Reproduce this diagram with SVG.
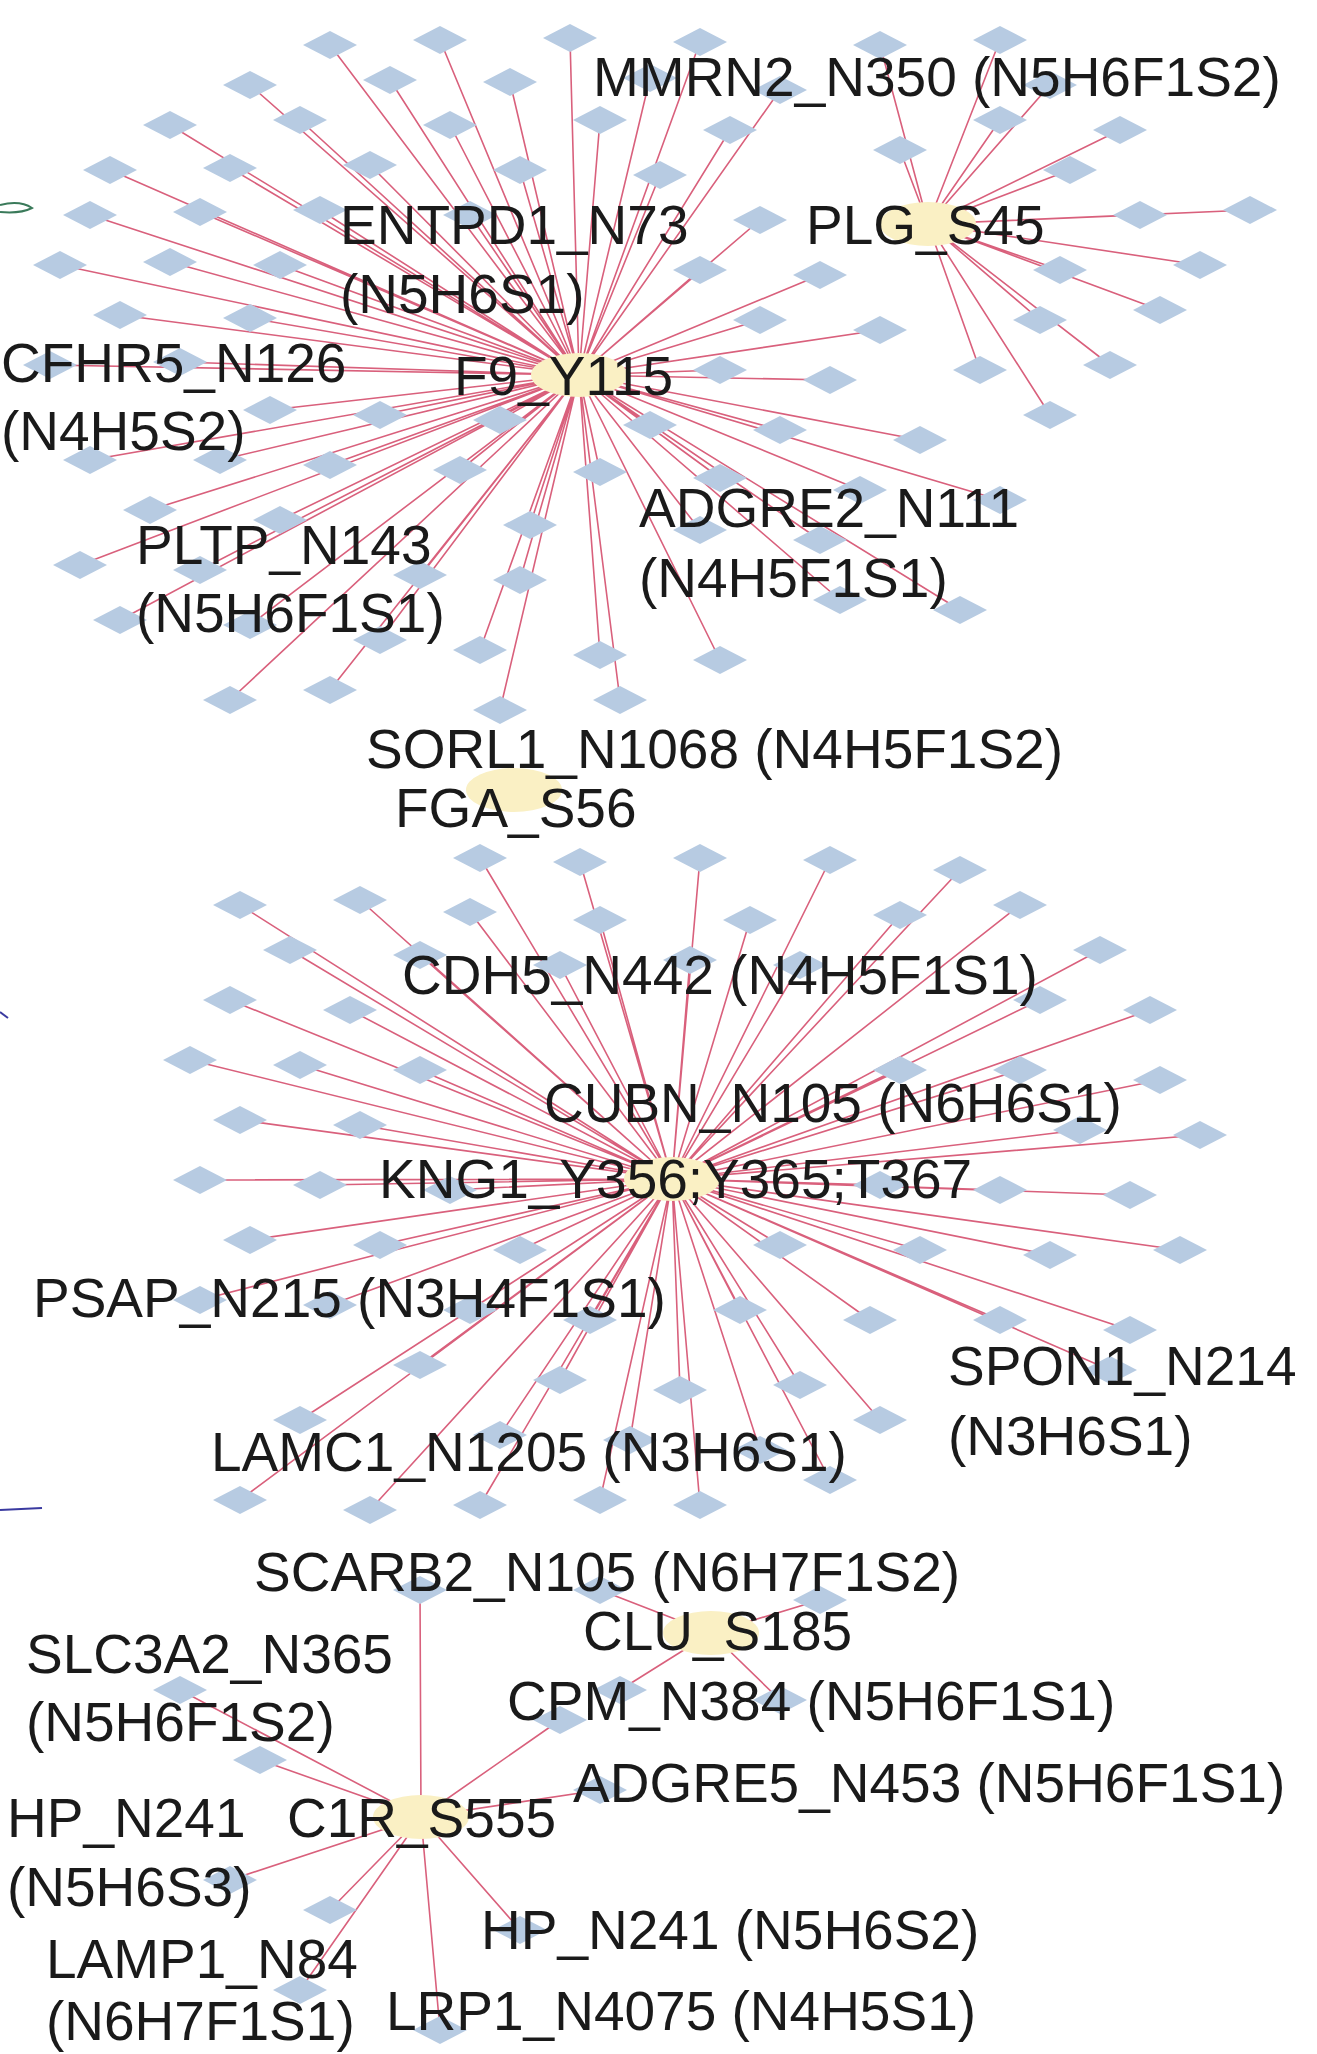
<svg xmlns="http://www.w3.org/2000/svg" xmlns:xlink="http://www.w3.org/1999/xlink" width="1317" height="2054" viewBox="0 0 1317 2054">
<style>
.e{stroke:#d9607c;stroke-width:1.6;fill:none}
.t{font-family:"Liberation Sans",Arial,sans-serif;font-size:55px;fill:#1a1a1a}
.h{fill:#faf0c4}
</style>
<defs><polygon id="d" points="0,-14 27,0 0,14 -27,0" fill="#b7cbe2"/></defs>
<rect width="1317" height="2054" fill="#fff"/>
<g id="connectors">
<path class="e" d="M579 375L330 45M579 375L440 40M579 375L570 38M579 375L700 42M579 375L250 85M579 375L390 80M579 375L510 82M579 375L650 78M579 375L780 90M579 375L170 125M579 375L300 120M579 375L450 125M579 375L600 120M579 375L730 130M579 375L110 170M579 375L230 168M579 375L370 165M579 375L520 170M579 375L660 175M579 375L90 215M579 375L200 212M579 375L320 210M579 375L470 215M579 375L760 220M579 375L60 265M579 375L170 262M579 375L280 265M579 375L700 270M579 375L820 275M579 375L120 315M579 375L250 318M579 375L760 320M579 375L880 330M579 375L50 365M579 375L180 362M579 375L720 370M579 375L830 380M579 375L270 410M579 375L380 415M579 375L500 420M579 375L650 425M579 375L780 430M579 375L920 440M579 375L90 460M579 375L220 460M579 375L330 465M579 375L460 470M579 375L600 472M579 375L720 478M579 375L860 490M579 375L1000 500M579 375L150 510M579 375L280 520M579 375L530 525M579 375L700 530M579 375L820 540M579 375L80 565M579 375L200 570M579 375L420 575M579 375L520 580M579 375L840 600M579 375L960 610M579 375L120 620M579 375L250 625M579 375L380 640M579 375L480 650M579 375L600 655M579 375L720 660M579 375L230 700M579 375L330 690M579 375L500 710M579 375L620 700"/>
<path class="e" d="M928 224L880 45M928 224L1000 40M928 224L1050 85M928 224L1120 130M928 224L1070 170M928 224L1140 215M928 224L1250 210M928 224L1200 265M928 224L1060 270M928 224L1160 310M928 224L1040 320M928 224L1110 365M928 224L980 370M928 224L1050 415M928 224L900 150M928 224L1000 120"/>
<path class="e" d="M672 1179L480 858M672 1179L580 862M672 1179L700 858M672 1179L830 860M672 1179L960 870M672 1179L240 905M672 1179L360 900M672 1179L470 912M672 1179L600 920M672 1179L750 920M672 1179L900 915M672 1179L1020 905M672 1179L290 950M672 1179L420 955M672 1179L560 965M672 1179L690 960M672 1179L800 965M672 1179L1100 950M672 1179L230 1000M672 1179L350 1010M672 1179L1150 1010M672 1179L1040 1000M672 1179L190 1060M672 1179L300 1065M672 1179L420 1070M672 1179L900 1070M672 1179L1020 1070M672 1179L1160 1080M672 1179L240 1120M672 1179L360 1125M672 1179L1080 1130M672 1179L1200 1135M672 1179L200 1180M672 1179L320 1185M672 1179L450 1190M672 1179L880 1185M672 1179L1000 1190M672 1179L1130 1195M672 1179L250 1240M672 1179L380 1245M672 1179L520 1250M672 1179L780 1245M672 1179L920 1250M672 1179L1050 1255M672 1179L1180 1250M672 1179L200 1300M672 1179L330 1305M672 1179L470 1310M672 1179L590 1320M672 1179L740 1310M672 1179L870 1320M672 1179L1000 1320M672 1179L1130 1330M672 1179L420 1365M672 1179L560 1380M672 1179L680 1390M672 1179L800 1385M672 1179L1110 1370M672 1179L300 1420M672 1179L500 1435M672 1179L630 1440M672 1179L760 1450M672 1179L880 1420M672 1179L370 1510M672 1179L480 1505M672 1179L600 1500M672 1179L700 1505M672 1179L830 1480M672 1179L240 1500"/>
<path class="e" d="M421 1817L420 1590M421 1817L260 1760M421 1817L230 1880M421 1817L330 1910M421 1817L440 2030M421 1817L520 1930M421 1817L600 1790M421 1817L560 1720M421 1817L300 1990M421 1817L180 1690"/>
<path class="e" d="M711 1633L600 1590M711 1633L820 1600M711 1633L620 1690M711 1633L780 1700"/>
<path d="M0 205Q20 200 32 208Q20 214 0 212" stroke="#3a7a5a" stroke-width="2" fill="none"/>
<path d="M0 1012L8 1018" stroke="#3a3aa0" stroke-width="2"/>
<path d="M0 1510L42 1508" stroke="#3a3aa0" stroke-width="2"/>
</g>
<g id="diamonds">
<use href="#d" x="330" y="45"/><use href="#d" x="440" y="40"/><use href="#d" x="570" y="38"/><use href="#d" x="700" y="42"/><use href="#d" x="250" y="85"/><use href="#d" x="390" y="80"/><use href="#d" x="510" y="82"/><use href="#d" x="650" y="78"/><use href="#d" x="780" y="90"/><use href="#d" x="170" y="125"/><use href="#d" x="300" y="120"/><use href="#d" x="450" y="125"/><use href="#d" x="600" y="120"/><use href="#d" x="730" y="130"/><use href="#d" x="110" y="170"/><use href="#d" x="230" y="168"/><use href="#d" x="370" y="165"/><use href="#d" x="520" y="170"/><use href="#d" x="660" y="175"/><use href="#d" x="90" y="215"/><use href="#d" x="200" y="212"/><use href="#d" x="320" y="210"/><use href="#d" x="470" y="215"/><use href="#d" x="760" y="220"/><use href="#d" x="60" y="265"/><use href="#d" x="170" y="262"/><use href="#d" x="280" y="265"/><use href="#d" x="700" y="270"/><use href="#d" x="820" y="275"/><use href="#d" x="120" y="315"/><use href="#d" x="250" y="318"/><use href="#d" x="760" y="320"/><use href="#d" x="880" y="330"/><use href="#d" x="50" y="365"/><use href="#d" x="180" y="362"/><use href="#d" x="720" y="370"/><use href="#d" x="830" y="380"/><use href="#d" x="270" y="410"/><use href="#d" x="380" y="415"/><use href="#d" x="500" y="420"/><use href="#d" x="650" y="425"/><use href="#d" x="780" y="430"/><use href="#d" x="920" y="440"/><use href="#d" x="90" y="460"/><use href="#d" x="220" y="460"/><use href="#d" x="330" y="465"/><use href="#d" x="460" y="470"/><use href="#d" x="600" y="472"/><use href="#d" x="720" y="478"/><use href="#d" x="860" y="490"/><use href="#d" x="1000" y="500"/><use href="#d" x="150" y="510"/><use href="#d" x="280" y="520"/><use href="#d" x="530" y="525"/><use href="#d" x="700" y="530"/><use href="#d" x="820" y="540"/><use href="#d" x="80" y="565"/><use href="#d" x="200" y="570"/><use href="#d" x="420" y="575"/><use href="#d" x="520" y="580"/><use href="#d" x="840" y="600"/><use href="#d" x="960" y="610"/><use href="#d" x="120" y="620"/><use href="#d" x="250" y="625"/><use href="#d" x="380" y="640"/><use href="#d" x="480" y="650"/><use href="#d" x="600" y="655"/><use href="#d" x="720" y="660"/><use href="#d" x="230" y="700"/><use href="#d" x="330" y="690"/><use href="#d" x="500" y="710"/><use href="#d" x="620" y="700"/>
<use href="#d" x="880" y="45"/><use href="#d" x="1000" y="40"/><use href="#d" x="1050" y="85"/><use href="#d" x="1120" y="130"/><use href="#d" x="1070" y="170"/><use href="#d" x="1140" y="215"/><use href="#d" x="1250" y="210"/><use href="#d" x="1200" y="265"/><use href="#d" x="1060" y="270"/><use href="#d" x="1160" y="310"/><use href="#d" x="1040" y="320"/><use href="#d" x="1110" y="365"/><use href="#d" x="980" y="370"/><use href="#d" x="1050" y="415"/><use href="#d" x="900" y="150"/><use href="#d" x="1000" y="120"/>
<use href="#d" x="480" y="858"/><use href="#d" x="580" y="862"/><use href="#d" x="700" y="858"/><use href="#d" x="830" y="860"/><use href="#d" x="960" y="870"/><use href="#d" x="240" y="905"/><use href="#d" x="360" y="900"/><use href="#d" x="470" y="912"/><use href="#d" x="600" y="920"/><use href="#d" x="750" y="920"/><use href="#d" x="900" y="915"/><use href="#d" x="1020" y="905"/><use href="#d" x="290" y="950"/><use href="#d" x="420" y="955"/><use href="#d" x="560" y="965"/><use href="#d" x="690" y="960"/><use href="#d" x="800" y="965"/><use href="#d" x="1100" y="950"/><use href="#d" x="230" y="1000"/><use href="#d" x="350" y="1010"/><use href="#d" x="1150" y="1010"/><use href="#d" x="1040" y="1000"/><use href="#d" x="190" y="1060"/><use href="#d" x="300" y="1065"/><use href="#d" x="420" y="1070"/><use href="#d" x="900" y="1070"/><use href="#d" x="1020" y="1070"/><use href="#d" x="1160" y="1080"/><use href="#d" x="240" y="1120"/><use href="#d" x="360" y="1125"/><use href="#d" x="1080" y="1130"/><use href="#d" x="1200" y="1135"/><use href="#d" x="200" y="1180"/><use href="#d" x="320" y="1185"/><use href="#d" x="450" y="1190"/><use href="#d" x="880" y="1185"/><use href="#d" x="1000" y="1190"/><use href="#d" x="1130" y="1195"/><use href="#d" x="250" y="1240"/><use href="#d" x="380" y="1245"/><use href="#d" x="520" y="1250"/><use href="#d" x="780" y="1245"/><use href="#d" x="920" y="1250"/><use href="#d" x="1050" y="1255"/><use href="#d" x="1180" y="1250"/><use href="#d" x="200" y="1300"/><use href="#d" x="330" y="1305"/><use href="#d" x="470" y="1310"/><use href="#d" x="590" y="1320"/><use href="#d" x="740" y="1310"/><use href="#d" x="870" y="1320"/><use href="#d" x="1000" y="1320"/><use href="#d" x="1130" y="1330"/><use href="#d" x="420" y="1365"/><use href="#d" x="560" y="1380"/><use href="#d" x="680" y="1390"/><use href="#d" x="800" y="1385"/><use href="#d" x="1110" y="1370"/><use href="#d" x="300" y="1420"/><use href="#d" x="500" y="1435"/><use href="#d" x="630" y="1440"/><use href="#d" x="760" y="1450"/><use href="#d" x="880" y="1420"/><use href="#d" x="370" y="1510"/><use href="#d" x="480" y="1505"/><use href="#d" x="600" y="1500"/><use href="#d" x="700" y="1505"/><use href="#d" x="830" y="1480"/><use href="#d" x="240" y="1500"/>
<use href="#d" x="420" y="1590"/><use href="#d" x="260" y="1760"/><use href="#d" x="230" y="1880"/><use href="#d" x="330" y="1910"/><use href="#d" x="440" y="2030"/><use href="#d" x="520" y="1930"/><use href="#d" x="600" y="1790"/><use href="#d" x="560" y="1720"/><use href="#d" x="300" y="1990"/><use href="#d" x="180" y="1690"/>
<use href="#d" x="600" y="1590"/><use href="#d" x="820" y="1600"/><use href="#d" x="620" y="1690"/><use href="#d" x="780" y="1700"/>
</g>
<g id="F9_Y115"><ellipse class="h" cx="579" cy="375" rx="48" ry="22"/><text class="t" x="454" y="395">F9_Y115</text></g>
<g id="PLG_S45"><ellipse class="h" cx="928" cy="224" rx="48" ry="22"/><text class="t" x="806" y="244">PLG_S45</text></g>
<g id="FGA_S56"><ellipse class="h" cx="514" cy="790" rx="48" ry="22"/><text class="t" x="395" y="827">FGA_S56</text></g>
<g id="KNG1"><ellipse class="h" cx="672" cy="1179" rx="48" ry="22"/><text class="t" x="379" y="1198">KNG1_Y356;Y365;T367</text></g>
<g id="CLU_S185"><ellipse class="h" cx="711" cy="1633" rx="48" ry="22"/><text class="t" x="583" y="1650">CLU_S185</text></g>
<g id="C1R_S555"><ellipse class="h" cx="421" cy="1817" rx="48" ry="22"/><text class="t" x="287" y="1837">C1R_S555</text></g>
<g id="labels">
<text class="t" x="593" y="96">MMRN2_N350 (N5H6F1S2)</text>
<text class="t" x="340" y="244">ENTPD1_N73</text><text class="t" x="340" y="313">(N5H6S1)</text>
<text class="t" x="1" y="382">CFHR5_N126</text><text class="t" x="1" y="450">(N4H5S2)</text>
<text class="t" x="639" y="527">ADGRE2_N111</text><text class="t" x="639" y="597">(N4H5F1S1)</text>
<text class="t" x="136" y="564">PLTP_N143</text><text class="t" x="136" y="632">(N5H6F1S1)</text>
<text class="t" x="366" y="768">SORL1_N1068 (N4H5F1S2)</text>
<text class="t" x="402" y="994">CDH5_N442 (N4H5F1S1)</text>
<text class="t" x="544" y="1122">CUBN_N105 (N6H6S1)</text>
<text class="t" x="33" y="1317">PSAP_N215 (N3H4F1S1)</text>
<text class="t" x="948" y="1385">SPON1_N214</text><text class="t" x="948" y="1455">(N3H6S1)</text>
<text class="t" x="211" y="1471">LAMC1_N1205 (N3H6S1)</text>
<text class="t" x="254" y="1591">SCARB2_N105 (N6H7F1S2)</text>
<text class="t" x="26" y="1673">SLC3A2_N365</text><text class="t" x="26" y="1741">(N5H6F1S2)</text>
<text class="t" x="507" y="1720">CPM_N384 (N5H6F1S1)</text>
<text class="t" x="573" y="1802">ADGRE5_N453 (N5H6F1S1)</text>
<text class="t" x="7" y="1837">HP_N241</text><text class="t" x="7" y="1906">(N5H6S3)</text>
<text class="t" x="481" y="1949">HP_N241 (N5H6S2)</text>
<text class="t" x="46" y="1978">LAMP1_N84</text><text class="t" x="46" y="2040">(N6H7F1S1)</text>
<text class="t" x="386" y="2030">LRP1_N4075 (N4H5S1)</text>
</g>
</svg>
